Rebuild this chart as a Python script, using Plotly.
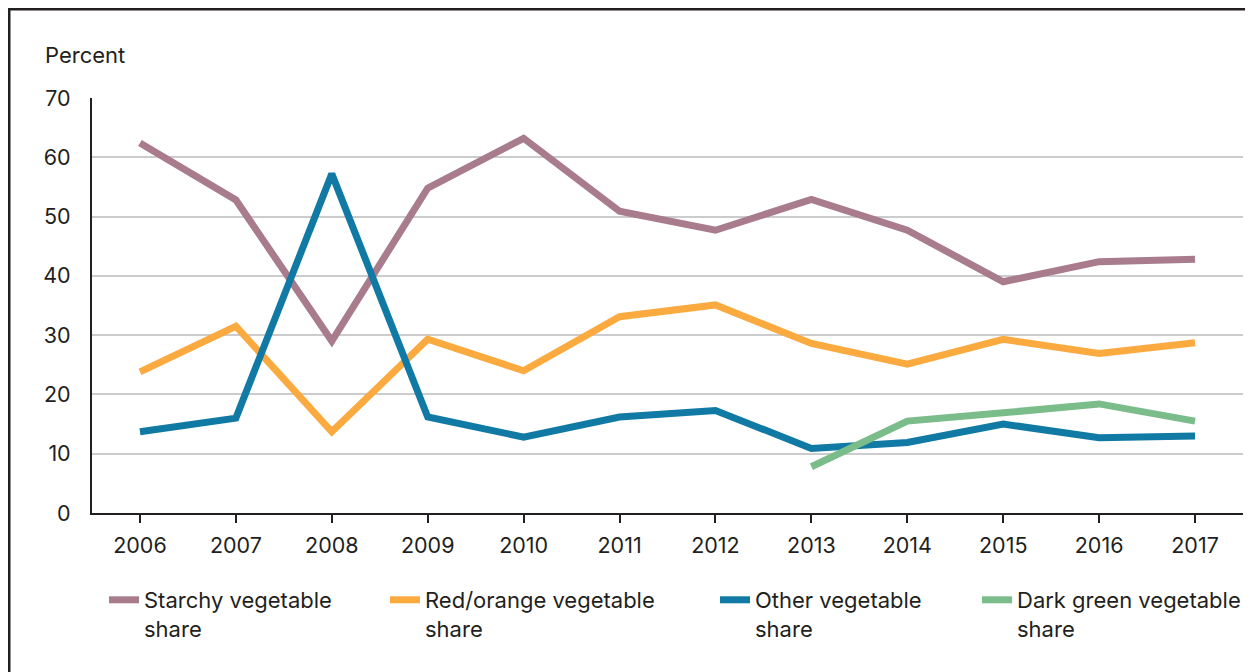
import plotly.graph_objects as go

years = [2006, 2007, 2008, 2009, 2010, 2011, 2012, 2013, 2014, 2015, 2016, 2017]
starchy = [62.4, 52.8, 29.0, 54.8, 63.2, 50.9, 47.7, 52.9, 47.7, 39.0, 42.4, 42.8]
red_orange = [23.8, 31.5, 13.7, 29.3, 24.0, 33.1, 35.1, 28.6, 25.1, 29.3, 26.9, 28.7]
other = [13.7, 16.0, 57.2, 16.2, 12.8, 16.2, 17.3, 10.9, 11.9, 15.0, 12.7, 13.0]
dark_green_years = [2013, 2014, 2015, 2016, 2017]
dark_green = [7.8, 15.5, 16.9, 18.4, 15.5]

names = ["Starchy vegetable<br>share", "Red/orange vegetable<br>share",
         "Other vegetable<br>share", "Dark green vegetable<br>share"]
colors = ["#A87C8D", "#FBAA40", "#107AA5", "#7BBD8A"]

FONT = "Inter"
TXT = "#231f20"

fig = go.Figure()
series = [(years, starchy), (years, red_orange), (years, other), (dark_green_years, dark_green)]
for i, ((xs, ys), nm, c) in enumerate(zip(series, names, colors)):
    fig.add_trace(go.Scatter(
        x=xs, y=ys, name=nm, mode="lines",
        line=dict(color=c, width=7),
        legend="legend" if i == 0 else f"legend{i+1}",
        hoverinfo="skip",
    ))

# figure-pixel coordinates (page has an 8px body margin)
L, R, T, B = 84, 1235, 90, 505
W, H = 1253, 672

def px_to_paper_x(px):
    return (px - L) / (R - L)

def px_to_paper_y(py):
    return (B - py) / (B - T)

leg_common = dict(orientation="h", xanchor="left", yanchor="top", valign="top",
                  font=dict(family=FONT, size=22, color=TXT), bgcolor="rgba(0,0,0,0)",
                  itemwidth=30)
leg_x = [96, 377, 707, 969]
leg_y = px_to_paper_y(571)

layout_legends = {}
for i, lx in enumerate(leg_x):
    key = "legend" if i == 0 else f"legend{i+1}"
    layout_legends[key] = dict(x=px_to_paper_x(lx), y=leg_y, **leg_common)

fig.update_layout(
    width=W, height=H,
    margin=dict(l=L, r=W - R, t=T, b=H - B),
    paper_bgcolor="white", plot_bgcolor="white",
    font=dict(family=FONT, size=21, color=TXT),
    showlegend=True,
    **layout_legends,
)

fig.update_xaxes(
    range=[2005.5, 2017.5], tickmode="array", tickvals=years,
    ticktext=[str(y) for y in years],
    showgrid=False, zeroline=False,
    showline=True, linecolor=TXT, linewidth=2,
    ticks="outside", ticklen=8, tickwidth=2, tickcolor=TXT,
    ticklabelstandoff=4,
    tickfont=dict(family=FONT, size=21.5, color=TXT),
    fixedrange=True,
)
fig.update_yaxes(
    range=[0, 70], tickmode="linear", tick0=0, dtick=10,
    showgrid=True, gridcolor="#cccccc", gridwidth=1.5,
    zeroline=False,
    showline=True, linecolor=TXT, linewidth=2,
    ticks="", ticklabelstandoff=15,
    tickfont=dict(family=FONT, size=21.5, color=TXT),
    fixedrange=True,
)

fig.add_annotation(
    text="Percent", xref="paper", yref="paper",
    x=px_to_paper_x(35), y=px_to_paper_y(47), xanchor="left", yanchor="middle",
    showarrow=False, font=dict(family=FONT, size=22, color=TXT),
)

# outer frame (clipped on right and bottom like the reference)
fig.add_shape(
    type="rect", xref="paper", yref="paper",
    x0=px_to_paper_x(1), x1=px_to_paper_x(1300),
    y0=px_to_paper_y(720), y1=px_to_paper_y(1),
    line=dict(color=TXT, width=3), fillcolor="rgba(0,0,0,0)", layer="above",
)

fig.write_html("out.html")
